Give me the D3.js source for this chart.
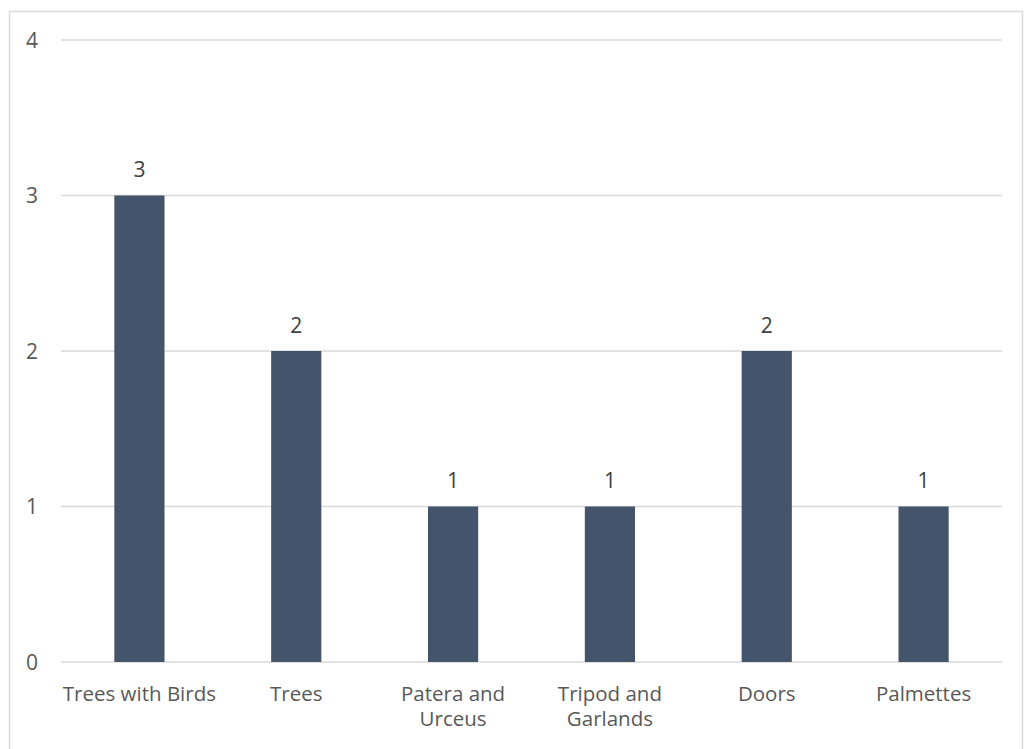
<!DOCTYPE html>
<html>
<head>
<meta charset="utf-8">
<script src="https://cdn.jsdelivr.net/npm/d3@7"></script>
<style>
  html, body { margin: 0; padding: 0; background: #fff; }
  svg { display: block; }
</style>
</head>
<body>
<svg id="chart" width="1024" height="749"></svg>
<script>
// Motif counts by category
const categories = ["Trees with Birds", "Trees", "Patera and Urceus", "Tripod and Garlands", "Doors", "Palmettes"];
const counts = [3, 2, 1, 1, 2, 1];
const yTicks = [0, 1, 2, 3, 4];
// Category labels broken onto lines as shown under the axis
const categoryLines = [["Trees with Birds"], ["Trees"], ["Patera and", "Urceus"], ["Tripod and", "Garlands"], ["Doors"], ["Palmettes"]];

const svg = d3.select("#chart");
const fontFamily = "'Open Sans', 'Liberation Sans', sans-serif";

// Outer chart frame
svg.append("rect")
  .attr("x", 9.5).attr("y", 11.5)
  .attr("width", 1013).attr("height", 760)
  .attr("fill", "#fff")
  .attr("stroke", "#d9d9d9")
  .attr("stroke-width", 1.5);

const plot = { left: 61, right: 1002, top: 40, bottom: 662 };

const x = d3.scaleBand()
  .domain(categories)
  .range([plot.left, plot.right])
  .paddingInner(0.68)
  .paddingOuter(0.34);

const y = d3.scaleLinear()
  .domain([0, 4])
  .range([plot.bottom, plot.top]);

// Horizontal gridlines
svg.append("g")
  .selectAll("line")
  .data(yTicks)
  .join("line")
  .attr("x1", plot.left).attr("x2", plot.right)
  .attr("y1", d => y(d)).attr("y2", d => y(d))
  .attr("stroke", "#d9d9d9")
  .attr("stroke-width", 1.3);

// Y axis labels
svg.append("g")
  .selectAll("text")
  .data(yTicks)
  .join("text")
  .attr("x", 38)
  .attr("y", d => y(d))
  .attr("dy", "0.36em")
  .attr("text-anchor", "end")
  .attr("font-family", fontFamily)
  .attr("font-size", 21)
  .attr("fill", "#595959")
  .text(d => d);

// Bars
svg.append("g")
  .selectAll("rect")
  .data(counts)
  .join("rect")
  .attr("x", (d, i) => x(categories[i]))
  .attr("y", d => y(d))
  .attr("width", x.bandwidth())
  .attr("height", d => y(0) - y(d))
  .attr("fill", "#44546a");

// Value labels above bars
svg.append("g")
  .selectAll("text")
  .data(counts)
  .join("text")
  .attr("x", (d, i) => x(categories[i]) + x.bandwidth() / 2)
  .attr("y", d => y(d) - 18.5)
  .attr("text-anchor", "middle")
  .attr("font-family", fontFamily)
  .attr("font-size", 21)
  .attr("fill", "#404040")
  .text(d => d);

// Category labels
const catG = svg.append("g")
  .selectAll("text")
  .data(categories)
  .join("text")
  .attr("x", d => x(d) + x.bandwidth() / 2)
  .attr("y", 701)
  .attr("text-anchor", "middle")
  .attr("font-family", fontFamily)
  .attr("font-size", 20.5)
  .attr("fill", "#595959");

catG.each(function (d, i) {
  const t = d3.select(this);
  categoryLines[i].forEach((line, j) => {
    t.append("tspan")
      .attr("x", x(d) + x.bandwidth() / 2)
      .attr("dy", j === 0 ? 0 : 24.5)
      .text(line);
  });
});
</script>
</body>
</html>
